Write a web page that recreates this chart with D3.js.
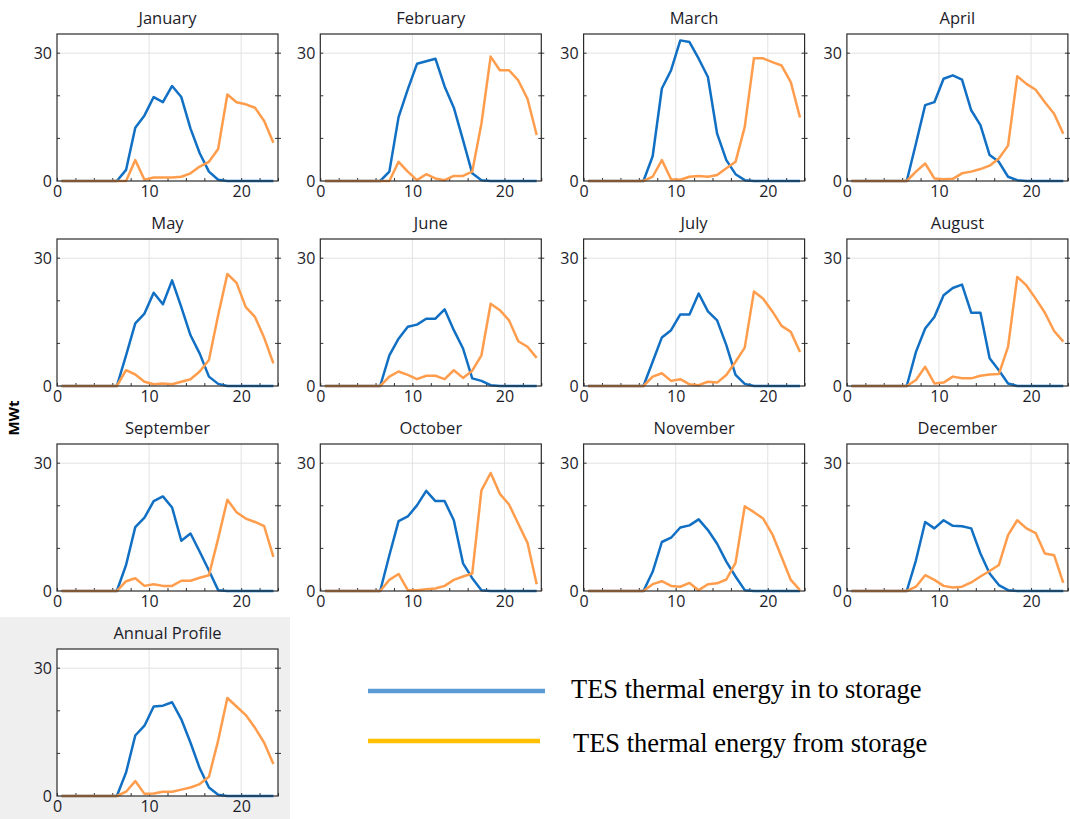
<!DOCTYPE html>
<html>
<head>
    <meta charset="utf-8" />
    <title>TES thermal energy - monthly profiles</title>
    <script src="https://d3js.org/d3.v7.min.js"></script>
    <style>
        html, body {
            margin: 0;
            padding: 0;
            background-color: #fff;
        }
        svg text {
            font-family: 'Open Sans', 'Noto Sans', sans-serif;
            fill: #1c1c2a;
        }
        .legend text {
            font-family: 'Liberation Serif', 'Times New Roman', serif;
            fill: #000;
        }
    </style>
</head>
<body>
    <div id="chart"></div>
    <script>
        // panel titles, in drawing order (last one = annual profile)
        var panelTitles = ["January", "February", "March", "April", "May", "June",
            "July", "August", "September", "October", "November", "December", "Annual Profile"];

        var hours = d3.range(0, 24);   // hour of day, drawn at the middle of the hour
        var xTickLabels = [0, 10, 20];
        var yTickLabels = [0, 30];
        var yMinorTicks = [10, 20, 30];

        // TES thermal energy in to storage (MWt), one row per panel
        var tesIn = [
            [0,0,0,0,0,0,0,2.6,12.5,15.4,19.7,18.5,22.3,19.7,12.3,6.5,2.2,0.3,0,0,0,0,0,0],
            [0,0,0,0,0,0,0,2.2,15.0,21.5,27.5,28.1,28.7,22.2,17.2,9.6,1.8,0.2,0,0,0,0,0,0],
            [0,0,0,0,0,0,0,5.8,21.7,26.0,33.0,32.6,28.7,24.4,11.1,4.9,1.6,0.2,0,0,0,0,0,0],
            [0,0,0,0,0,0,0,8.8,17.8,18.5,24.0,24.8,23.8,16.6,13.1,6.1,4.5,1.0,0.2,0,0,0,0,0],
            [0,0,0,0,0,0,0,7.2,14.7,17.0,21.9,19.2,24.8,18.5,11.9,7.6,2.2,0.5,0,0,0,0,0,0],
            [0,0,0,0,0,0,0,7.2,11.1,13.9,14.4,15.8,15.8,18.0,13.1,8.8,1.8,1.2,0.2,0,0,0,0,0],
            [0,0,0,0,0,0,0,5.7,11.4,13.1,16.8,16.8,21.7,17.5,15.4,9.6,2.6,0.5,0,0,0,0,0,0],
            [0,0,0,0,0,0,0,8.0,13.5,16.2,21.3,23.0,23.8,17.2,17.2,6.5,3.7,0.6,0,0,0,0,0,0],
            [0,0,0,0,0,0,0,6.1,15.0,17.2,21.1,22.2,19.6,11.8,13.5,9.2,4.8,0.2,0,0,0,0,0,0],
            [0,0,0,0,0,0,0,8.4,16.4,17.5,20.1,23.5,21.1,21.1,16.6,6.5,3.0,0.2,0,0,0,0,0,0],
            [0,0,0,0,0,0,0,4.5,11.5,12.5,14.9,15.4,16.8,14.3,11.1,6.9,3.4,0.2,0,0,0,0,0,0],
            [0,0,0,0,0,0,0,7.2,16.2,14.7,16.6,15.3,15.2,14.7,8.8,4.1,1.4,0.2,0,0,0,0,0,0],
            [0,0,0,0,0,0,0,5.5,14.2,16.5,21.0,21.2,22.0,18.0,12.5,6.5,2.0,0.3,0,0,0,0,0,0]
        ];

        // TES thermal energy from storage (MWt), one row per panel
        var tesFrom = [
            [0,0,0,0,0,0,0,0,4.9,0.3,0.8,0.8,0.8,1.0,1.8,3.4,4.5,7.5,20.3,18.5,18.0,17.2,14.1,9.0],
            [0,0,0,0,0,0,0,0,4.5,2.2,0.2,1.6,0.6,0.2,1.2,1.2,2.2,13.5,29.2,26.0,26.0,23.6,19.3,10.8],
            [0,0,0,0,0,0,0,1.0,4.9,0.4,0.3,1.0,1.2,1.0,1.4,3.0,4.5,12.7,28.8,28.8,27.9,27.1,23.2,14.9],
            [0,0,0,0,0,0,0,2.2,4.1,0.6,0.4,0.5,1.8,2.2,2.8,3.6,5.3,8.3,24.6,22.8,21.4,18.5,15.8,11.1],
            [0,0,0,0,0,0,0,3.7,2.7,1.0,0.4,0.6,0.4,1.0,1.6,3.4,6.1,16.6,26.3,24.2,18.5,16.2,11.3,5.3],
            [0,0,0,0,0,0,0,2.2,3.4,2.6,1.6,2.4,2.4,1.6,3.7,1.9,3.6,7.2,19.3,17.8,15.4,10.5,9.2,6.6],
            [0,0,0,0,0,0,0,2.2,3.0,1.2,1.6,0.4,0.2,1.0,0.8,2.6,5.7,9.0,22.2,20.5,17.5,14.1,12.7,8.0],
            [0,0,0,0,0,0,0,1.4,4.5,0.6,0.8,2.2,1.8,1.8,2.4,2.7,2.8,9.2,25.6,23.6,20.5,17.2,12.9,10.4],
            [0,0,0,0,0,0,0,2.3,3.0,1.2,1.6,1.2,1.2,2.4,2.4,3.1,3.7,12.3,21.4,18.5,17.0,16.2,15.2,8.0],
            [0,0,0,0,0,0,0,2.6,4.0,0.2,0.2,0.4,0.6,1.2,2.6,3.4,4.1,23.6,27.7,22.8,20.3,15.8,11.3,1.6],
            [0,0,0,0,0,0,0,1.6,2.3,1.2,1.0,1.9,0.2,1.6,1.8,2.7,6.6,19.9,18.5,17.0,13.3,8.0,2.6,0.2],
            [0,0,0,0,0,0,0,1.0,3.7,2.6,1.2,0.8,1.0,2.0,3.4,4.7,6.1,13.1,16.6,14.7,13.6,8.8,8.4,1.9],
            [0,0,0,0,0,0,0,1.0,3.5,0.5,0.6,1.0,1.0,1.5,2.0,2.8,4.5,13.0,23.0,21.0,19.0,16.0,12.5,7.5]
        ];

        var legendLabels = ["TES thermal energy in to storage", "TES thermal energy from storage"];

        var width = 1070, height = 819;
        var plotW = 221, plotH = 147;
        var colStep = 263.3, rowStep = 205;
        var left0 = 57, top0 = 34;

        var blue = "#1170c4", orange = "#ff9d4d";

        var svg = d3.select("#chart")
            .append("svg")
            .attr("width", width)
            .attr("height", height);

        // grey box behind the annual profile panel
        svg.append("rect")
            .attr("x", 0).attr("y", 617)
            .attr("width", 290).attr("height", 202)
            .attr("fill", "#efefef");

        var x = d3.scaleLinear().domain([0, 24]).range([0, plotW]);
        var y = d3.scaleLinear().domain([0, 34.5]).range([plotH, 0]);

        var line = d3.line()
            .x(function(d, i){ return x(hours[i] + 0.5); })
            .y(function(d){ return y(d); });

        panelTitles.forEach(function(title, p) {
            var col = p % 4, row = Math.floor(p / 4);
            var g = svg.append("g")
                .attr("transform", "translate(" + (left0 + col*colStep) + "," + (top0 + row*rowStep) + ")");

            g.append("rect")
                .attr("width", plotW).attr("height", plotH)
                .attr("fill", "#fff");

            // grid
            g.selectAll(".vgrid").data([10, 20]).enter()
                .append("line")
                .attr("x1", function(d){ return x(d); })
                .attr("x2", function(d){ return x(d); })
                .attr("y1", 0).attr("y2", plotH)
                .attr("stroke", "#e2e2e2").attr("stroke-width", 1);
            g.append("line")
                .attr("x1", 0).attr("x2", plotW)
                .attr("y1", y(30)).attr("y2", y(30))
                .attr("stroke", "#e2e2e2").attr("stroke-width", 1);

            // axes: short inside ticks, labels only at a few values
            var xAxis = d3.axisBottom(x)
                .tickValues(d3.range(0, 25, 2))
                .tickSize(-3)
                .tickFormat(function(d){ return xTickLabels.indexOf(d) >= 0 ? d : ""; });
            var gx = g.append("g")
                .attr("transform", "translate(0," + plotH + ")")
                .call(xAxis);
            gx.select(".domain").remove();
            gx.selectAll("line").attr("stroke", "#333");
            gx.selectAll("text")
                .attr("dy", "0.9em")
                .attr("y", 2)
                .style("font-size", "16px");

            var yAxis = d3.axisLeft(y)
                .tickValues(yTickLabels)
                .tickSize(0)
                .tickPadding(5);
            var gy = g.append("g").call(yAxis);
            gy.select(".domain").remove();
            gy.selectAll("text").style("font-size", "16px");

            [0, plotW].forEach(function(xx) {
                g.selectAll(null).data(yMinorTicks).enter()
                    .append("line")
                    .attr("x1", xx === 0 ? 0 : plotW - 3)
                    .attr("x2", xx === 0 ? 3 : plotW + 3)
                    .attr("y1", function(d){ return y(d); })
                    .attr("y2", function(d){ return y(d); })
                    .attr("stroke", "#333");
            });

            g.append("path")
                .datum(tesIn[p])
                .attr("d", line)
                .attr("fill", "none")
                .attr("stroke", blue)
                .attr("stroke-width", 2.5)
                .attr("stroke-linejoin", "round");

            g.append("path")
                .datum(tesFrom[p])
                .attr("d", line)
                .attr("fill", "none")
                .attr("stroke", orange)
                .attr("stroke-width", 2.5)
                .attr("stroke-linejoin", "round");

            g.append("rect")
                .attr("width", plotW).attr("height", plotH)
                .attr("fill", "none")
                .attr("stroke", "#2a2a2a")
                .attr("stroke-width", 1.2);

            g.append("text")
                .attr("x", plotW / 2)
                .attr("y", -10)
                .attr("text-anchor", "middle")
                .style("font-size", "16.5px")
                .text(title);
        });

        // shared y-axis title
        svg.append("text")
            .attr("transform", "translate(19,418) rotate(-90)")
            .attr("text-anchor", "middle")
            .style("font-size", "15px")
            .style("font-weight", "bold")
            .style("fill", "#000")
            .text("MWt");

        // legend
        var legendColors = ["#5b9bd5", "#ffc000"];
        var legend = svg.append("g").attr("class", "legend");
        legendLabels.forEach(function(label, i) {
            var ly = 691 + i*50;
            legend.append("line")
                .attr("x1", 368).attr("x2", i === 0 ? 545 : 540)
                .attr("y1", ly).attr("y2", ly)
                .attr("stroke", legendColors[i])
                .attr("stroke-width", 4.5);
            legend.append("text")
                .attr("x", i === 0 ? 571 : 573)
                .attr("y", i === 0 ? 698 : 752)
                .style("font-size", "26.5px")
                .text(label);
        });
    </script>
</body>
</html>
